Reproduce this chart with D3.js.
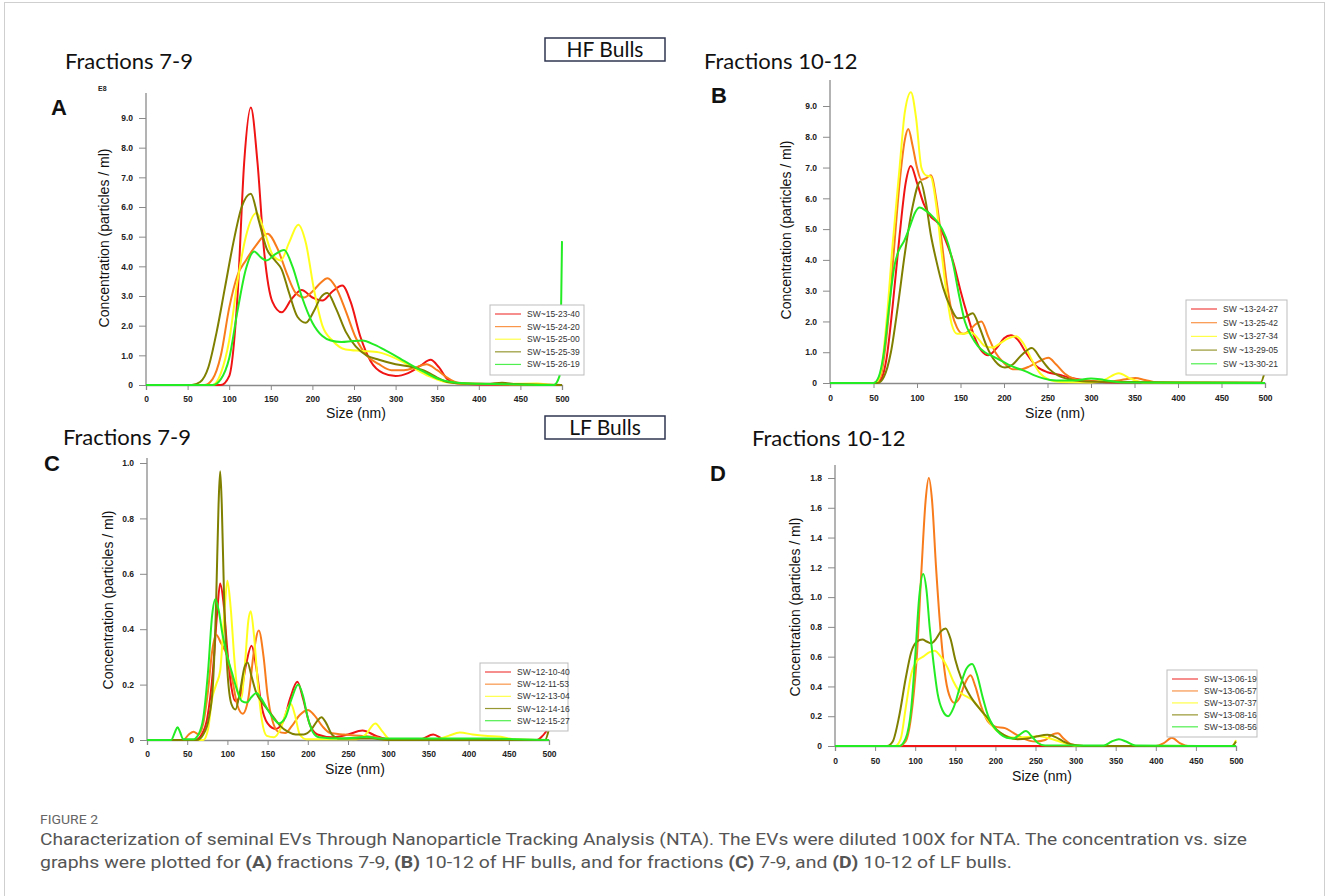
<!DOCTYPE html>
<html>
<head>
<meta charset="utf-8">
<script src="https://cdn.jsdelivr.net/npm/d3@7"></script>
<style>
  body { margin: 0; background: #fff; }
  text { font-family: "Liberation Sans", Arial, sans-serif; }
</style>
</head>
<body>
<svg id="fig" width="1328" height="896"></svg>
<script>
// ---- data (size nm, concentration) ----
const xTicks = [0, 50, 100, 150, 200, 250, 300, 350, 400, 450, 500];
const seriesColors = ["#f01414", "#f87c1c", "#ffff1e", "#7f7f00", "#24ec24"];

// A: HF bulls, fractions 7-9 (E8 particles / ml)
const aNames = ["SW~15-23-40", "SW~15-24-20", "SW~15-25-00", "SW~15-25-39", "SW~15-26-19"];
const aTicks = [0, 1, 2, 3, 4, 5, 6, 7, 8, 9];
const aRed = [[0,0],[90,0],[100,0.3],[110,3.0],[118,7.5],[126,9.35],[134,7.5],[142,4.5],[152,2.8],[163,2.45],[175,2.9],[187,3.2],[200,2.95],[212,2.85],[224,3.15],[236,3.35],[246,2.8],[258,1.6],[270,0.8],[285,0.4],[300,0.3],[315,0.4],[330,0.65],[342,0.85],[352,0.6],[362,0.2],[375,0.05],[400,0.02],[500,0]];
const aOrange = [[0,0],[70,0],[80,0.2],[90,1.0],[100,2.6],[110,3.7],[120,4.2],[132,4.7],[146,5.1],[158,4.6],[170,3.7],[180,3.1],[190,2.95],[200,3.15],[210,3.45],[218,3.6],[228,3.3],[240,2.5],[252,1.6],[265,1.0],[280,0.7],[295,0.5],[310,0.5],[325,0.6],[337,0.7],[350,0.5],[362,0.25],[375,0.08],[400,0.04],[500,0]];
const aYellow = [[0,0],[80,0],[90,0.4],[100,1.5],[110,3.5],[120,5.0],[133,5.8],[142,5.2],[152,4.4],[162,4.2],[172,4.8],[183,5.4],[192,4.8],[202,3.2],[212,2.0],[224,1.5],[240,1.2],[260,1.15],[280,1.1],[300,0.9],[320,0.6],[340,0.3],[360,0.1],[380,0.05],[420,0.03],[470,0.05],[490,0],[500,0]];
const aOlive = [[0,0],[55,0],[65,0.1],[75,0.6],[85,1.8],[95,3.3],[105,4.8],[115,6.0],[126,6.45],[135,5.6],[145,4.6],[155,4.2],[163,3.9],[172,3.1],[182,2.3],[192,2.1],[202,2.5],[210,2.95],[218,3.1],[228,2.6],[240,1.8],[252,1.3],[265,1.0],[280,0.85],[300,0.7],[320,0.6],[337,0.45],[350,0.25],[362,0.1],[380,0.05],[410,0.04],[428,0.08],[445,0.03],[500,0]];
const aGreen = [[0,0],[80,0],[90,0.2],[100,0.9],[110,2.5],[120,3.9],[130,4.5],[138,4.3],[145,4.2],[155,4.4],[166,4.55],[176,4.0],[187,3.0],[200,2.1],[212,1.65],[222,1.5],[235,1.45],[248,1.48],[260,1.5],[275,1.35],[289,1.15],[305,0.9],[320,0.65],[337,0.4],[352,0.2],[367,0.1],[390,0.05],[450,0.02],[490,0],[497,0.3],[500,4.85]];

// B: HF bulls, fractions 10-12
const bNames = ["SW ~13-24-27", "SW ~13-25-42", "SW ~13-27-34", "SW ~13-29-05", "SW ~13-30-21"];
const bTicks = [0, 1, 2, 3, 4, 5, 6, 7, 8, 9];
const bRed = [[0,0],[50,0],[58,0.1],[65,0.8],[72,2.5],[80,4.8],[87,6.5],[93,7.05],[100,6.5],[108,5.8],[116,5.4],[124,5.2],[132,4.7],[142,3.9],[150,3.0],[158,2.2],[166,1.5],[174,1.05],[182,0.9],[192,1.15],[200,1.45],[208,1.55],[216,1.4],[226,0.95],[237,0.55],[250,0.35],[262,0.28],[275,0.18],[290,0.1],[305,0.05],[330,0.02],[500,0]];
const bOrange = [[0,0],[52,0],[58,0.2],[65,1.5],[72,3.8],[80,6.5],[86,7.9],[90,8.25],[95,7.7],[100,7.0],[105,6.6],[110,6.65],[116,6.75],[122,6.0],[128,4.7],[134,3.3],[140,2.3],[146,1.8],[153,1.6],[160,1.7],[167,1.9],[174,2.0],[182,1.5],[190,1.0],[200,0.65],[210,0.45],[220,0.45],[230,0.55],[240,0.7],[251,0.82],[260,0.6],[270,0.3],[282,0.12],[300,0.06],[320,0.05],[340,0.12],[351,0.16],[362,0.1],[378,0.01],[500,0]];
const bYellow = [[0,0],[52,0],[58,0.3],[65,2.0],[72,4.5],[80,7.0],[86,8.8],[93,9.45],[99,8.6],[105,7.0],[110,6.75],[116,6.7],[122,5.8],[128,4.3],[134,2.9],[140,1.9],[146,1.6],[154,1.6],[162,1.65],[170,1.45],[178,1.2],[187,1.15],[196,1.3],[205,1.45],[214,1.52],[222,1.3],[232,0.75],[242,0.3],[252,0.1],[265,0.03],[300,0.02],[315,0.1],[332,0.32],[345,0.15],[360,0.02],[500,0]];
const bOlive = [[0,0],[55,0],[62,0.2],[70,1.0],[78,2.5],[86,4.2],[94,5.6],[104,6.55],[110,5.9],[116,4.8],[122,4.0],[130,3.1],[138,2.5],[147,2.1],[156,2.15],[164,2.27],[172,1.8],[180,1.2],[190,0.7],[201,0.5],[210,0.6],[220,0.9],[232,1.14],[242,0.8],[252,0.45],[262,0.25],[275,0.12],[290,0.06],[320,0.04],[400,0.02],[495,0.02],[500,0.4]];
const bGreen = [[0,0],[50,0],[56,0.2],[62,1.0],[68,2.5],[74,3.8],[79,4.3],[85,4.6],[92,5.1],[98,5.55],[103,5.7],[110,5.6],[120,5.35],[129,5.0],[136,4.5],[142,3.8],[148,2.9],[155,2.0],[163,1.5],[170,1.2],[178,1.0],[186,0.88],[195,0.75],[205,0.6],[215,0.48],[225,0.38],[235,0.25],[245,0.15],[260,0.08],[280,0.08],[300,0.15],[315,0.1],[335,0.02],[500,0]];

// C: LF bulls, fractions 7-9
const cNames = ["SW~12-10-40", "SW~12-11-53", "SW~12-13-04", "SW~12-14-16", "SW~12-15-27"];
const cTicks = [0, 0.2, 0.4, 0.6, 0.8, 1.0];
const cRed = [[0,0],[60,0],[68,0.02],[75,0.08],[82,0.25],[87,0.45],[91,0.565],[95,0.5],[100,0.32],[105,0.19],[110,0.14],[116,0.16],[123,0.27],[130,0.34],[136,0.26],[142,0.13],[150,0.06],[160,0.04],[170,0.07],[178,0.15],[187,0.21],[194,0.15],[202,0.06],[212,0.02],[230,0.01],[250,0.02],[268,0.034],[285,0.015],[300,0.003],[340,0.003],[356,0.02],[370,0.003],[485,0],[492,0.015],[500,0.045]];
const cOrange = [[0,0],[45,0],[52,0.02],[58,0.03],[64,0.02],[70,0.06],[76,0.18],[81,0.32],[86,0.38],[92,0.35],[100,0.3],[106,0.22],[112,0.13],[119,0.095],[126,0.15],[133,0.32],[139,0.395],[145,0.3],[150,0.16],[156,0.07],[163,0.03],[172,0.025],[180,0.05],[190,0.09],[200,0.108],[208,0.09],[218,0.05],[228,0.025],[245,0.02],[265,0.015],[285,0.01],[300,0],[500,0]];
const cYellow = [[0,0],[70,0],[76,0.04],[81,0.15],[86,0.2],[91,0.25],[96,0.45],[100,0.575],[104,0.48],[109,0.28],[113,0.17],[117,0.15],[122,0.28],[126,0.43],[129,0.465],[133,0.38],[138,0.2],[143,0.07],[149,0.015],[158,0.01],[166,0.04],[173,0.1],[179,0.13],[184,0.09],[190,0.02],[198,0.003],[260,0.003],[272,0.02],[284,0.06],[293,0.03],[302,0.003],[360,0.003],[375,0.015],[389,0.027],[405,0.02],[420,0.015],[440,0.012],[455,0.003],[500,0]];
const cOlive = [[0,0],[62,0],[70,0.02],[77,0.08],[82,0.2],[86,0.5],[89,0.85],[91,0.97],[93,0.85],[96,0.5],[100,0.25],[105,0.13],[110,0.11],[116,0.18],[121,0.26],[125,0.28],[130,0.23],[136,0.17],[142,0.14],[150,0.11],[158,0.08],[166,0.05],[175,0.03],[185,0.02],[195,0.02],[205,0.04],[212,0.07],[217,0.082],[223,0.06],[230,0.02],[240,0.005],[280,0.005],[300,0],[495,0],[500,0.04]];
const cGreen = [[0,0],[30,0],[35,0.03],[38,0.046],[41,0.03],[45,0.003],[58,0.003],[64,0.02],[70,0.08],[76,0.25],[81,0.45],[85,0.508],[89,0.47],[94,0.38],[100,0.3],[106,0.24],[112,0.18],[118,0.14],[124,0.135],[130,0.155],[136,0.17],[142,0.15],[150,0.11],[158,0.075],[164,0.06],[172,0.08],[180,0.15],[188,0.2],[194,0.16],[200,0.08],[206,0.03],[214,0.01],[240,0.005],[260,0.008],[273,0.012],[290,0.005],[420,0.005],[500,0]];

// D: LF bulls, fractions 10-12
const dNames = ["SW~13-06-19", "SW~13-06-57", "SW~13-07-37", "SW~13-08-16", "SW~13-08-56"];
const dTicks = [0, 0.2, 0.4, 0.6, 0.8, 1.0, 1.2, 1.4, 1.6, 1.8];
const dRed = [[0,0],[500,0]];
const dOrange = [[0,0],[80,0],[88,0.03],[95,0.2],[102,0.6],[108,1.2],[113,1.65],[117,1.8],[121,1.65],[126,1.2],[132,0.75],[138,0.45],[144,0.32],[149,0.29],[155,0.32],[162,0.42],[169,0.475],[175,0.4],[182,0.27],[190,0.17],[200,0.13],[212,0.12],[222,0.09],[235,0.05],[250,0.03],[262,0.04],[272,0.08],[278,0.085],[285,0.05],[295,0.01],[310,0],[400,0],[410,0.02],[420,0.055],[430,0.02],[440,0],[500,0]];
const dYellow = [[0,0],[75,0],[82,0.05],[88,0.25],[95,0.48],[102,0.57],[110,0.6],[118,0.63],[124,0.64],[132,0.6],[140,0.53],[148,0.43],[156,0.36],[165,0.33],[173,0.3],[182,0.24],[190,0.18],[200,0.11],[212,0.07],[225,0.055],[240,0.06],[255,0.065],[268,0.05],[280,0.03],[292,0.01],[305,0],[495,0],[500,0.04]];
const dOlive = [[0,0],[65,0],[72,0.03],[80,0.2],[88,0.45],[95,0.63],[102,0.7],[109,0.715],[115,0.7],[120,0.69],[126,0.72],[132,0.77],[138,0.79],[144,0.72],[150,0.58],[157,0.46],[165,0.37],[173,0.3],[182,0.24],[190,0.19],[198,0.13],[206,0.09],[216,0.06],[228,0.045],[240,0.05],[252,0.065],[265,0.075],[275,0.06],[285,0.03],[295,0.01],[310,0],[495,0],[500,0.03]];
const dGreen = [[0,0],[80,0],[88,0.05],[95,0.25],[100,0.6],[105,1.0],[110,1.155],[114,1.05],[118,0.8],[123,0.55],[128,0.35],[134,0.24],[141,0.2],[148,0.26],[156,0.4],[164,0.52],[171,0.55],[177,0.48],[184,0.33],[191,0.2],[198,0.13],[206,0.08],[214,0.055],[222,0.05],[230,0.075],[238,0.1],[246,0.06],[253,0.02],[262,0.003],[335,0.003],[345,0.03],[354,0.045],[363,0.03],[375,0.003],[500,0]];

const captionLine1 = "Characterization of seminal EVs Through Nanoparticle Tracking Analysis (NTA). The EVs were diluted 100X for NTA. The concentration vs. size";

// ---- layout ----
const svg = d3.select("#fig");
svg.append("rect").attr("x", 4.5).attr("y", 2.5).attr("width", 1320).attr("height", 920)
  .attr("fill", "none").attr("stroke", "#cfcfcf");

const panels = [
  { letter: "A", title: "Fractions 7-9", names: aNames, ticks: aTicks, series: [aRed, aOrange, aYellow, aOlive, aGreen],
    x0: 146, x1: 562, yZero: 385, yTop: 118, axisTop: 93,
    letterPos: [51, 115], titlePos: [65, 69], yLabelPos: [109, 238], sizePos: [356, 418], tickY: 402,
    legend: [490, 305, 94, 70], e8: [98, 91] },
  { letter: "B", title: "Fractions 10-12", names: bNames, ticks: bTicks, series: [bRed, bOrange, bYellow, bOlive, bGreen],
    x0: 830, x1: 1265, yZero: 383, yTop: 106, axisTop: 80,
    letterPos: [711, 103], titlePos: [704, 69], yLabelPos: [791, 230], sizePos: [1055, 418], tickY: 401,
    legend: [1186, 300, 101, 75] },
  { letter: "C", title: "Fractions 7-9", names: cNames, ticks: cTicks, series: [cRed, cOrange, cYellow, cOlive, cGreen],
    x0: 147, x1: 549, yZero: 740, yTop: 463, axisTop: 458,
    letterPos: [44, 471], titlePos: [63, 445], yLabelPos: [113, 600], sizePos: [355, 774], tickY: 757,
    legend: [480, 663, 88, 68] },
  { letter: "D", title: "Fractions 10-12", names: dNames, ticks: dTicks, series: [dRed, dOrange, dYellow, dOlive, dGreen],
    x0: 835, x1: 1236, yZero: 746, yTop: 478, axisTop: 465,
    letterPos: [710, 481], titlePos: [752, 446], yLabelPos: [800, 607], sizePos: [1042, 781], tickY: 764,
    legend: [1167, 670, 90, 67] }
];

panels.forEach(drawPanel);

// group labels
[["HF Bulls", 38], ["LF Bulls", 416]].forEach(([label, top]) => {
  svg.append("rect").attr("x", 545).attr("y", top).attr("width", 120).attr("height", 23)
    .attr("fill", "#fff").attr("stroke", "#2f3650").attr("stroke-width", 1.5);
  svg.append("text").attr("x", 605).attr("y", top + 18.5).attr("text-anchor", "middle")
    .style("font-family", "Lato, sans-serif").style("font-size", "21px").attr("fill", "#111").text(label);
});

function drawPanel(p) {
  const g = svg.append("g");
  const x = d3.scaleLinear().domain([0, 500]).range([p.x0, p.x1]);
  const yMax = p.ticks[p.ticks.length - 1];
  const y = d3.scaleLinear().domain([0, yMax]).range([p.yZero, p.yTop]);
  const fmt = d => d === 0 ? "0" : d3.format(".1f")(d);

  // y axis
  const ya = g.append("g").attr("transform", `translate(${p.x0},0)`)
    .call(d3.axisLeft(y).tickValues(p.ticks).tickFormat(fmt).tickSize(7).tickPadding(6));
  ya.select(".domain").remove();
  g.append("line").attr("x1", p.x0).attr("x2", p.x0).attr("y1", p.axisTop).attr("y2", p.yZero)
    .attr("stroke", "#8a8a8a").attr("stroke-width", 1.3);

  // x axis
  const xa = g.append("g").attr("transform", `translate(0,${p.yZero})`)
    .call(d3.axisBottom(x).tickValues(xTicks).tickSize(5).tickPadding(3));
  xa.select(".domain").attr("stroke", "#8a8a8a").attr("stroke-width", 1.3);
  xa.selectAll("text").attr("y", p.tickY - p.yZero).attr("dy", 0);

  [ya, xa].forEach(a => {
    a.selectAll(".tick line").attr("stroke", "#8a8a8a");
    a.selectAll("text").attr("fill", "#222").style("font-size", "8.5px").style("font-weight", "bold");
  });

  // curves
  const line = d3.line().x(d => x(d[0])).y(d => y(d[1])).curve(d3.curveMonotoneX);
  p.series.forEach((s, i) => {
    g.append("path").datum(s).attr("d", line).attr("fill", "none")
      .attr("stroke", seriesColors[i]).attr("stroke-width", 2).attr("stroke-linejoin", "round");
  });

  // legend
  const [lx, ly, lw, lh] = p.legend;
  const lg = g.append("g");
  lg.append("rect").attr("x", lx).attr("y", ly).attr("width", lw).attr("height", lh)
    .attr("fill", "#fff").attr("stroke", "#bdbdbd");
  const rowH = (lh - 12) / 4.6;
  p.names.forEach((n, i) => {
    const ry = ly + 9 + i * rowH;
    lg.append("line").attr("x1", lx + 5).attr("x2", lx + 31).attr("y1", ry).attr("y2", ry)
      .attr("stroke", seriesColors[i]).attr("stroke-width", 1.2).attr("opacity", 0.8);
    lg.append("text").attr("x", lx + 37).attr("y", ry + 3).style("font-size", "8.5px")
      .attr("fill", "#333").text(n);
  });

  // labels
  g.append("text").attr("x", p.letterPos[0]).attr("y", p.letterPos[1])
    .style("font-size", "22px").style("font-weight", "bold").attr("fill", "#111").text(p.letter);
  g.append("text").attr("x", p.titlePos[0]).attr("y", p.titlePos[1])
    .style("font-family", "Lato, sans-serif").style("font-size", "22px").attr("fill", "#111").text(p.title);
  g.append("text").attr("transform", `translate(${p.yLabelPos[0]},${p.yLabelPos[1]}) rotate(-90)`)
    .attr("text-anchor", "middle").style("font-size", "14px").attr("fill", "#111")
    .text("Concentration (particles / ml)");
  g.append("text").attr("x", p.sizePos[0]).attr("y", p.sizePos[1]).attr("text-anchor", "middle")
    .style("font-size", "14px").attr("fill", "#111").text("Size (nm)");
  if (p.e8) {
    g.append("text").attr("x", p.e8[0]).attr("y", p.e8[1]).style("font-size", "7px")
      .style("font-weight", "bold").attr("fill", "#222").text("E8");
  }
}

// caption
svg.append("text").attr("x", 40).attr("y", 824).style("font-family", "Roboto, sans-serif")
  .style("font-size", "13px").attr("fill", "#666").attr("textLength", 58).attr("lengthAdjust", "spacingAndGlyphs")
  .text("FIGURE 2");
svg.append("text").attr("x", 40).attr("y", 845).style("font-family", "Roboto, sans-serif")
  .style("font-size", "16px").attr("fill", "#555").attr("textLength", 1207).attr("lengthAdjust", "spacingAndGlyphs")
  .text(captionLine1);
const cap2 = svg.append("text").attr("x", 40).attr("y", 868).style("font-family", "Roboto, sans-serif")
  .style("font-size", "16px").attr("fill", "#555").attr("textLength", 972).attr("lengthAdjust", "spacingAndGlyphs");
[["graphs were plotted for ", false], ["(A)", true], [" fractions 7-9, ", false], ["(B)", true],
 [" 10-12 of HF bulls, and for fractions ", false], ["(C)", true], [" 7-9, and ", false], ["(D)", true],
 [" 10-12 of LF bulls.", false]].forEach(([t, b]) => {
  cap2.append("tspan").style("font-weight", b ? "bold" : "normal").text(t);
});
</script>
</body>
</html>
